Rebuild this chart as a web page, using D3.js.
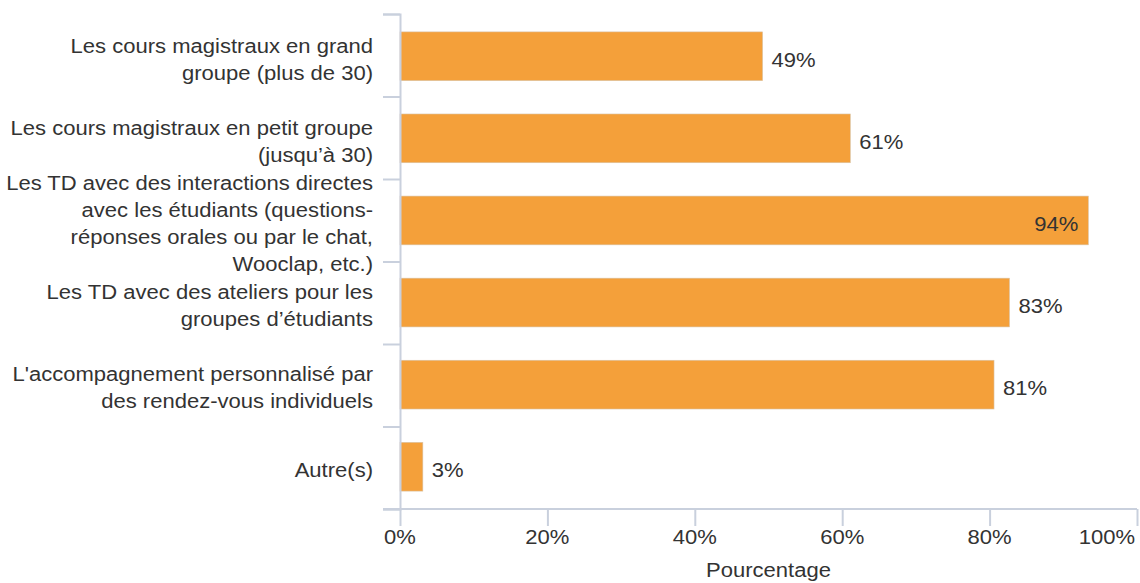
<!DOCTYPE html>
<html><head><meta charset="utf-8">
<script src="https://cdn.jsdelivr.net/npm/d3@7"></script>
<style>
html,body{margin:0;padding:0;background:#fff;}
svg{display:block;font-family:"Liberation Sans",Arial,Helvetica,sans-serif;}
</style></head>
<body>
<svg id="chart" width="1140" height="583"></svg>
<script>
const categories = [
  ["Les cours magistraux en grand", "groupe (plus de 30)"],
  ["Les cours magistraux en petit groupe", "(jusqu’à 30)"],
  ["Les TD avec des interactions directes", "avec les étudiants (questions-", "réponses orales ou par le chat,", "Wooclap, etc.)"],
  ["Les TD avec des ateliers pour les", "groupes d’étudiants"],
  ["L'accompagnement personnalisé par", "des rendez-vous individuels"],
  ["Autre(s)"]
];
const values = [49.2, 61.1, 93.4, 82.7, 80.6, 3.1];
const valueLabels = ["49%", "61%", "94%", "83%", "81%", "3%"];
const xTicks = [0, 20, 40, 60, 80, 100];
const xTickLabels = ["0%", "20%", "40%", "60%", "80%", "100%"];
const xTitle = "Pourcentage";

(function () {
const svg = d3.select("#chart");
const mLeft = 400, mRight = 1137, mTop = 14, mBottom = 509;
const fs = 19.5;
const sx = 1.13;
const axisColor = "#c9d0dd";
const textColor = "#333333";

function addText(parent, tx, ty, str, anchor) {
  return parent.append("g")
    .attr("transform", `translate(${tx},${ty}) scale(${sx},1)`)
    .append("text")
    .attr("text-anchor", anchor)
    .attr("font-size", fs)
    .attr("fill", textColor)
    .attr("dy", "0.35em")
    .text(str);
}

const x = d3.scaleLinear().domain([0, 100]).range([mLeft, mRight]);
const y = d3.scaleBand().domain(d3.range(categories.length)).range([mTop, mBottom])
  .paddingInner(0.406).paddingOuter(0.218);

svg.append("g").selectAll("rect").data(values).join("rect")
  .attr("x", x(0))
  .attr("y", (d, i) => y(i))
  .attr("width", d => x(d) - x(0))
  .attr("height", y.bandwidth())
  .attr("fill", "#F4A03A")
  .attr("stroke", "#d9c3a6")
  .attr("stroke-width", 0.6);

const valG = svg.append("g");
values.forEach((d, i) => {
  const inside = d > 90;
  addText(valG, inside ? x(d) - 10 : x(d) + 9, y(i) + y.bandwidth() / 2 + 3.5,
    valueLabels[i], inside ? "end" : "start");
});

const yAxisScale = d3.scaleLinear().domain([0, categories.length]).range([mTop, mBottom]);
const gy = svg.append("g").attr("transform", `translate(${mLeft},0)`)
  .call(d3.axisLeft(yAxisScale).tickValues(d3.range(categories.length + 1)).tickSize(17).tickFormat(""));
gy.selectAll("path,line").attr("stroke", axisColor).attr("stroke-width", 2);

const labelG = svg.append("g");
const lh = 27;
categories.forEach((lines, i) => {
  const cy = y(i) + y.bandwidth() / 2 + 3.5;
  lines.forEach((ln, j) => {
    addText(labelG, 373, cy + (j - (lines.length - 1) / 2) * lh, ln, "end");
  });
});

const gx = svg.append("g").attr("transform", `translate(0,${mBottom})`)
  .call(d3.axisBottom(x).tickValues(xTicks).tickSize(17).tickFormat(""));
gx.select(".domain").remove();
gx.selectAll("line").attr("stroke", axisColor).attr("stroke-width", 2);

const tickG = svg.append("g");
xTicks.forEach((t, i) => {
  const last = i === xTicks.length - 1;
  addText(tickG, last ? x(t) - 2 : x(t), 537, xTickLabels[i], last ? "end" : "middle");
});

svg.append("line").attr("x1", mLeft - 17).attr("x2", mRight).attr("y1", mBottom).attr("y2", mBottom)
  .attr("stroke", axisColor).attr("stroke-width", 2);

addText(svg, (mLeft + mRight) / 2, 570, xTitle, "middle");
})();
</script>
</body></html>
